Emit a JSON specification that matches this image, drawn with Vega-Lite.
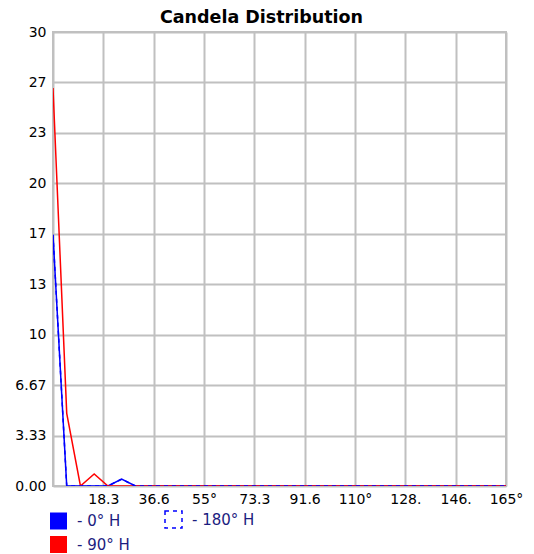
{
  "$schema": "https://vega.github.io/schema/vega-lite/v6.json",
  "width": 453,
  "height": 454,
  "autosize": "none",
  "padding": {"left": 53, "top": 32, "right": 28, "bottom": 68},
  "background": "white",
  "title": {"text": "Candela Distribution", "font": "DejaVu Sans", "fontSize": 17.5, "fontWeight": "bold", "color": "black", "anchor": "middle", "offset": -1, "dx": -18},
  "config": {
    "view": {"stroke": "#c0c0c0", "strokeWidth": 2},
    "axis": {"grid": true, "gridColor": "#c0c0c0", "gridWidth": 2, "gridOpacity": 1, "domain": false, "ticks": false, "labelFont": "DejaVu Sans", "labelFontSize": 14, "labelColor": "black", "title": null}
  },
  "datasets": {
    "d0": [
      {"a": 0, "v": 16.6}, {"a": 5, "v": 0}, {"a": 10, "v": 0}, {"a": 15, "v": 0}, {"a": 20, "v": 0}, {"a": 25, "v": 0.45}, {"a": 30, "v": 0}, {"a": 35, "v": 0}, {"a": 40, "v": 0}, {"a": 45, "v": 0}, {"a": 50, "v": 0}, {"a": 55, "v": 0}, {"a": 60, "v": 0}, {"a": 65, "v": 0}, {"a": 70, "v": 0}, {"a": 75, "v": 0}, {"a": 80, "v": 0}, {"a": 85, "v": 0}, {"a": 90, "v": 0}, {"a": 95, "v": 0}, {"a": 100, "v": 0}, {"a": 105, "v": 0}, {"a": 110, "v": 0}, {"a": 115, "v": 0}, {"a": 120, "v": 0}, {"a": 125, "v": 0}, {"a": 130, "v": 0}, {"a": 135, "v": 0}, {"a": 140, "v": 0}, {"a": 145, "v": 0}, {"a": 150, "v": 0}, {"a": 155, "v": 0}, {"a": 160, "v": 0}, {"a": 165, "v": 0}
    ],
    "d90": [
      {"a": 0, "v": 26.3}, {"a": 5, "v": 4.8}, {"a": 10, "v": 0}, {"a": 15, "v": 0.8}, {"a": 20, "v": 0}, {"a": 25, "v": 0}, {"a": 30, "v": 0}, {"a": 35, "v": 0}, {"a": 40, "v": 0}, {"a": 45, "v": 0}, {"a": 50, "v": 0}, {"a": 55, "v": 0}, {"a": 60, "v": 0}, {"a": 65, "v": 0}, {"a": 70, "v": 0}, {"a": 75, "v": 0}, {"a": 80, "v": 0}, {"a": 85, "v": 0}, {"a": 90, "v": 0}, {"a": 95, "v": 0}, {"a": 100, "v": 0}, {"a": 105, "v": 0}, {"a": 110, "v": 0}, {"a": 115, "v": 0}, {"a": 120, "v": 0}, {"a": 125, "v": 0}, {"a": 130, "v": 0}, {"a": 135, "v": 0}, {"a": 140, "v": 0}, {"a": 145, "v": 0}, {"a": 150, "v": 0}, {"a": 155, "v": 0}, {"a": 160, "v": 0}, {"a": 165, "v": 0}
    ],
    "d180": [
      {"a": 0, "v": 16.6}, {"a": 5, "v": 0}, {"a": 10, "v": 0}, {"a": 15, "v": 0}, {"a": 20, "v": 0}, {"a": 25, "v": 0.45}, {"a": 30, "v": 0}, {"a": 35, "v": 0}, {"a": 40, "v": 0}, {"a": 45, "v": 0}, {"a": 50, "v": 0}, {"a": 55, "v": 0}, {"a": 60, "v": 0}, {"a": 65, "v": 0}, {"a": 70, "v": 0}, {"a": 75, "v": 0}, {"a": 80, "v": 0}, {"a": 85, "v": 0}, {"a": 90, "v": 0}, {"a": 95, "v": 0}, {"a": 100, "v": 0}, {"a": 105, "v": 0}, {"a": 110, "v": 0}, {"a": 115, "v": 0}, {"a": 120, "v": 0}, {"a": 125, "v": 0}, {"a": 130, "v": 0}, {"a": 135, "v": 0}, {"a": 140, "v": 0}, {"a": 145, "v": 0}, {"a": 150, "v": 0}, {"a": 155, "v": 0}, {"a": 160, "v": 0}, {"a": 165, "v": 0}
    ]
  },
  "encoding": {
    "x": {"field": "a", "type": "quantitative", "scale": {"domain": [0, 165], "nice": false, "zero": false},
      "axis": {"values": [0, 18.333333, 36.666667, 55, 73.333333, 91.666667, 110, 128.333333, 146.666667, 165], "labelPadding": 6, "labelFlush": false, "labelOverlap": false,
        "labelExpr": "datum.value == 0 ? '' : (abs(datum.value % 55) < 0.01 ? format(datum.value, 'd') + '°' : substring(format(datum.value, '.2f'), 0, 4))"}},
    "y": {"field": "v", "type": "quantitative", "scale": {"domain": [0, 30], "nice": false},
      "axis": {"values": [0, 3.333333, 6.666667, 10, 13.333333, 16.666667, 20, 23.333333, 26.666667, 30], "labelPadding": 7, "labelOverlap": false,
        "labelExpr": "datum.value < 9 ? format(datum.value, '.2f') : format(datum.value, '.0f')"}},
    "color": {"datum": "- 0° H", "type": "nominal",
      "scale": {"domain": ["- 0° H", "- 180° H", "- 90° H"], "range": ["#0000ff", "#0000ff", "#ff0000"]},
      "legend": {"orient": "none", "legendX": -2, "legendY": 480, "columns": 2, "direction": "horizontal", "title": null,
        "symbolType": "square", "symbolSize": 289, "labelFont": "DejaVu Sans", "labelFontSize": 15, "labelColor": "#1c1c80", "labelOffset": 11, "columnPadding": 32, "rowPadding": 5,
        "encode": {"symbols": {"update": {
          "fill": {"signal": "datum.value === '- 180° H' ? 'transparent' : scale('color', datum.value)"},
          "stroke": {"signal": "scale('color', datum.value)"},
          "strokeWidth": {"signal": "datum.value === '- 180° H' ? 1.5 : 0"},
          "strokeDash": {"signal": "datum.value === '- 180° H' ? [4, 4] : [1, 0]"},
          "opacity": {"value": 1}, "fillOpacity": {"value": 1}
        }}}}
    }
  },
  "layer": [
    {"data": {"name": "d0"}, "mark": {"type": "line", "strokeWidth": 1.5, "clip": true}, "encoding": {"color": {"datum": "- 0° H", "type": "nominal"}}},
    {"data": {"name": "d90"}, "mark": {"type": "line", "strokeWidth": 1.5, "clip": true}, "encoding": {"color": {"datum": "- 90° H", "type": "nominal"}}},
    {"data": {"name": "d180"}, "mark": {"type": "line", "strokeWidth": 1.5, "strokeDash": [4, 4], "clip": true}, "encoding": {"color": {"datum": "- 180° H", "type": "nominal"}}}
  ]
}
